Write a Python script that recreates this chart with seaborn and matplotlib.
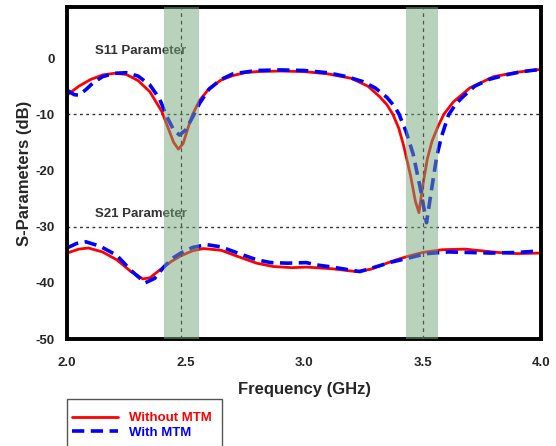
import numpy as np
import pandas as pd
import matplotlib
matplotlib.use("Agg")
import matplotlib.pyplot as plt
import seaborn as sns
from matplotlib.patches import Rectangle
from matplotlib.lines import Line2D

# ---------------- data ----------------
s11_without_f = [2.00, 2.05, 2.10, 2.15, 2.20, 2.25, 2.30, 2.35, 2.40, 2.43, 2.45, 2.47, 2.49, 2.51,
                 2.53, 2.56, 2.60, 2.65, 2.70, 2.75, 2.80, 2.90, 3.00, 3.10, 3.20, 3.27, 3.32, 3.35,
                 3.375, 3.40, 3.42, 3.45, 3.47, 3.485, 3.50, 3.52, 3.54, 3.565, 3.59, 3.63, 3.70,
                 3.80, 3.90, 4.00]
s11_without_db = [-6.6, -5.0, -3.8, -3.0, -2.7, -2.9, -4.0, -6.0, -9.5, -12.8, -15.0, -16.2, -15.2, -12.5,
                  -10.0, -7.5, -5.4, -3.9, -3.1, -2.6, -2.4, -2.3, -2.4, -2.8, -3.6, -5.0, -6.9, -8.3,
                  -10.0, -12.5, -15.5, -21.0, -25.5, -27.5, -23.0, -18.0, -14.8, -12.2, -10.0, -7.8, -5.3,
                  -3.3, -2.5, -2.0]

s11_with_f = [2.00, 2.03, 2.05, 2.08, 2.11, 2.15, 2.20, 2.25, 2.30, 2.35, 2.39, 2.42, 2.45, 2.475, 2.50,
              2.53, 2.56, 2.60, 2.65, 2.70, 2.80, 2.90, 3.00, 3.10, 3.18, 3.25, 3.30, 3.35, 3.38, 3.40,
              3.43, 3.46, 3.49, 3.517, 3.54, 3.56, 3.58, 3.61, 3.64, 3.67, 3.72, 3.78, 3.85, 3.92, 4.00]
s11_with_db = [-5.7, -6.5, -6.6, -5.6, -4.4, -3.3, -2.7, -2.6, -3.2, -4.8, -7.2, -10.3, -12.8, -13.7, -12.8,
               -10.5, -8.0, -5.5, -3.8, -2.8, -2.2, -2.1, -2.2, -2.6, -3.3, -4.2, -5.3, -7.0, -8.5, -9.9,
               -13.0, -17.0, -23.0, -29.3, -22.9, -17.5, -14.0, -10.1, -8.2, -6.9, -5.0, -3.8, -3.0, -2.4, -2.0]

s21_without_f = [2.00, 2.05, 2.09, 2.15, 2.21, 2.27, 2.32, 2.35, 2.395, 2.44, 2.48, 2.53, 2.575, 2.65,
                 2.72, 2.80, 2.87, 2.95, 3.01, 3.12, 3.22, 3.28, 3.33, 3.39, 3.445, 3.50, 3.584, 3.68,
                 3.82, 3.90, 4.00]
s21_without_db = [-34.7, -34.0, -33.8, -34.5, -35.9, -38.0, -39.3, -39.1, -37.6, -36.2, -35.2, -34.3, -33.9,
                  -34.2, -35.3, -36.5, -37.1, -37.3, -37.2, -37.5, -38.0, -37.6, -36.8, -35.9, -35.2, -34.6,
                  -34.1, -34.0, -34.6, -34.8, -34.7]

s21_with_f = [2.00, 2.04, 2.08, 2.14, 2.21, 2.27, 2.33, 2.37, 2.41, 2.45, 2.48, 2.53, 2.59, 2.65, 2.72,
              2.80, 2.86, 2.93, 3.01, 3.05, 3.12, 3.235, 3.30, 3.37, 3.43, 3.517, 3.61, 3.70, 3.79, 3.90, 4.00]
s21_with_db = [-33.8, -33.0, -32.7, -33.5, -35.1, -37.8, -40.0, -39.2, -37.1, -35.5, -34.7, -33.7, -33.2,
               -33.6, -34.7, -35.9, -36.4, -36.5, -36.4, -36.8, -37.2, -38.0, -37.2, -36.3, -35.7, -34.8,
               -34.5, -34.6, -34.7, -34.6, -34.3]

bands = [(2.408, 2.555), (3.43, 3.567)]
band_centers = [2.483, 3.50]
ref_levels = [-10, -30]
x_ticks = [2.0, 2.5, 3.0, 3.5, 4.0]
y_ticks = [-50, -40, -30, -20, -10, 0]
series_labels = ["Without MTM", "With MTM"]

# ---------------- style ----------------
sns.set_style("white")
plt.rcParams["font.family"] = ["Liberation Sans", "DejaVu Sans"]
plt.rcParams["font.weight"] = "bold"

fig = plt.figure(figsize=(5.56, 4.46), dpi=100)
ax = fig.add_axes([67 / 556, 1 - 339 / 446, (541 - 67) / 556, (339 - 7) / 446])

red = "#ff0000"
blue = "#0000ff"

df = lambda f, v: pd.DataFrame({"f": f, "v": v})
sns.lineplot(data=df(s11_without_f, s11_without_db), x="f", y="v", ax=ax, color=red, lw=2.0,
             sort=False, zorder=2)
sns.lineplot(data=df(s21_without_f, s21_without_db), x="f", y="v", ax=ax, color=red, lw=2.0,
             sort=False, zorder=2)
sns.lineplot(data=df(s11_with_f, s11_with_db), x="f", y="v", ax=ax, color=blue, lw=2.6,
             sort=False, zorder=2.1, dashes=False)
sns.lineplot(data=df(s21_with_f, s21_with_db), x="f", y="v", ax=ax, color=blue, lw=2.6,
             sort=False, zorder=2.1, dashes=False)
for ln in ax.get_lines()[2:]:
    ln.set_linestyle((0, (3.4, 1.8)))

for lv in ref_levels:
    ax.axhline(lv, color="#333333", lw=1.0, ls=(0, (2, 2.5)), zorder=1.5)

for (a, b), c in zip(bands, band_centers):
    ax.axvspan(a, b, color="#73a779", alpha=0.5, lw=0, zorder=3)
    ax.axvline(c, color="#555555", lw=0.9, ls=(0, (3, 3)), zorder=3.5)

ax.text(2.12, 1.3, "S11 Parameter", fontsize=9.5, fontweight="bold", color="#333333",
        va="center", ha="left", zorder=1)
ax.text(2.12, -27.7, "S21 Parameter", fontsize=9.5, fontweight="bold", color="#333333",
        va="center", ha="left", zorder=1)

ax.set_xlim(2.0, 4.0)
ax.set_ylim(-50, 9.1)
ax.set_xticks(x_ticks)
ax.set_xticklabels([f"{t:.1f}" for t in x_ticks], fontsize=9.5, fontweight="bold")
ax.set_yticks(y_ticks)
ax.set_yticklabels([str(t) for t in y_ticks], fontsize=9.5, fontweight="bold")
ax.tick_params(axis="both", direction="out", length=5, width=1.3, color="black", pad=8)
ax.tick_params(axis="y", pad=4)

ax.set_xlabel("Frequency (GHz)", fontsize=12, fontweight="bold", labelpad=9)
ax.set_ylabel("S-Parameters (dB)", fontsize=12, fontweight="bold", labelpad=2)

for s in ["left", "bottom", "top", "right"]:
    ax.spines[s].set_visible(True)
    ax.spines[s].set_color("black")
    ax.spines[s].set_linewidth(2.8)

# legend
fig.patches.append(Rectangle((67 / 556, -0.05), (222 - 67) / 556, (446 - 399) / 446 + 0.05,
                             transform=fig.transFigure, fill=False, edgecolor="#555555", lw=1.0))
handles = [Line2D([], [], color=red, lw=2.0),
           Line2D([], [], color=blue, lw=2.6, ls=(0, (3.4, 1.8)))]
leg = fig.legend(handles, series_labels, loc="upper left",
                 bbox_to_anchor=(72 / 556, 1 - 412 / 446), frameon=False,
                 prop={"size": 9.5, "weight": "bold"}, handlelength=3.5, handletextpad=0.8,
                 labelspacing=0.2, borderpad=0, borderaxespad=0)
for t, c in zip(leg.get_texts(), [red, blue]):
    t.set_color(c)

fig.savefig("out.png", dpi=100)
